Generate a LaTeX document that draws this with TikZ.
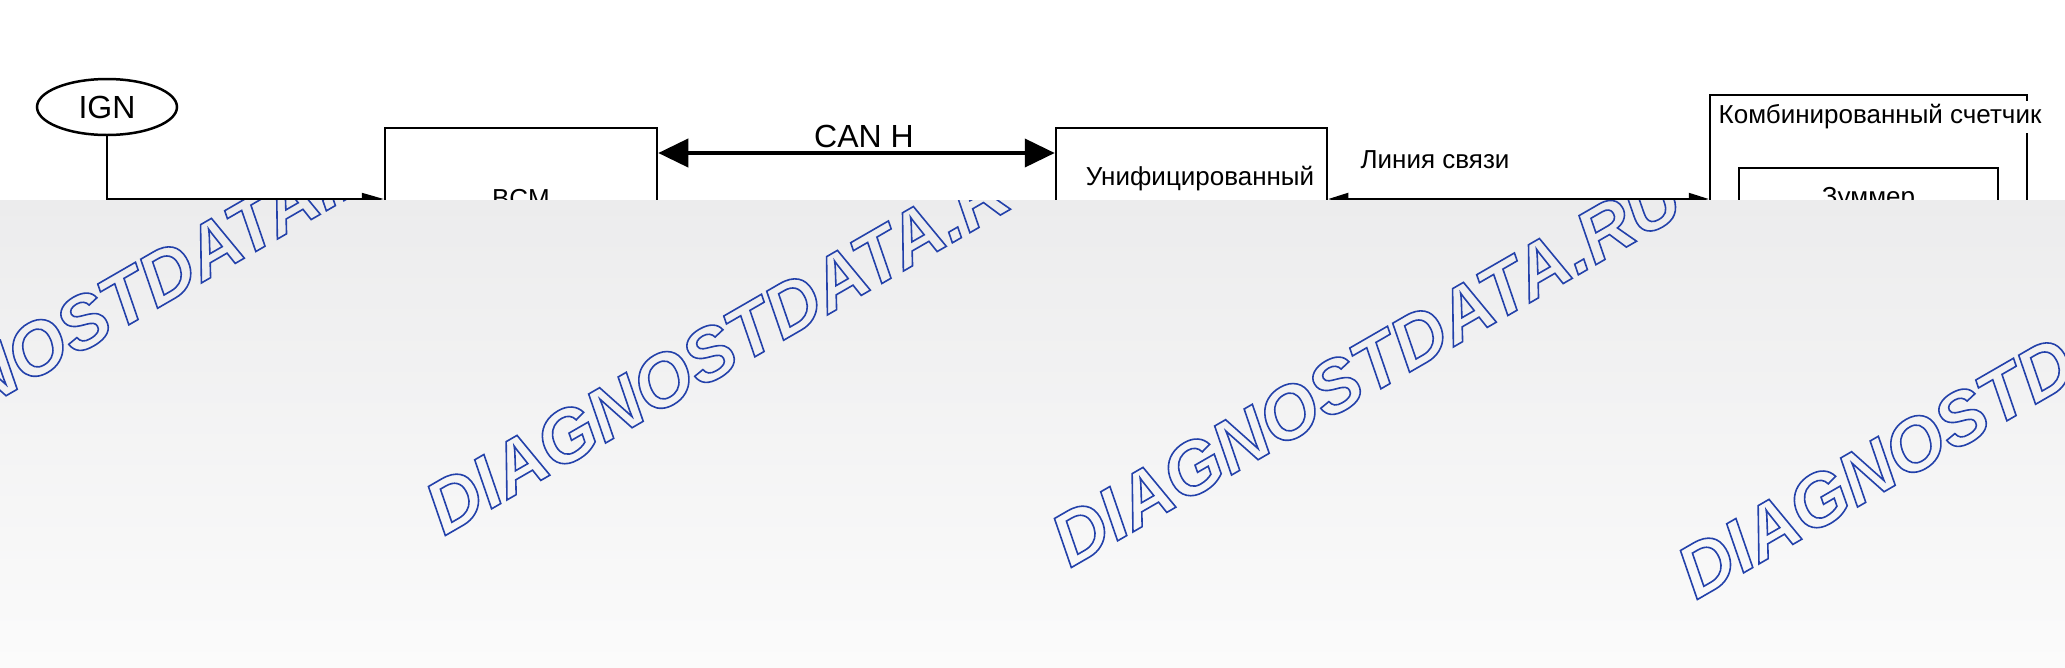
\documentclass[tikz,border=0pt]{standalone}
\usepackage{fontspec}
\setmainfont{Liberation Sans}
\usetikzlibrary{arrows.meta,shapes.geometric,calc}
\definecolor{wmblue}{RGB}{35,65,170}
\definecolor{ovtop}{RGB}{236,236,237}
\definecolor{ovbot}{RGB}{251,251,251}
\newcommand{\outlinetext}[1]{\special{pdf:literal direct 1 Tr 1.6 w}#1\special{pdf:literal direct 0 Tr}}
\begin{document}
\begin{tikzpicture}[x=1pt,y=-1pt,
  box/.style={draw,line width=2.5pt,inner sep=0pt},
  lbl/.style={font=\fontsize{26}{30}\selectfont,inner sep=0pt},
  thinarrow/.style={line width=2pt,-{Triangle[length=22pt,width=12pt]}},
  linkarrow/.style={line width=2pt,{Triangle[length=20pt,width=12pt]}-{Triangle[length=20pt,width=12pt]}},
  canarrow/.style={line width=4pt,{Triangle[length=30pt,width=28pt]}-{Triangle[length=30pt,width=28pt]}},
  wm/.style={font=\fontsize{74}{84}\selectfont\bfseries\itshape,text=wmblue,inner sep=0pt,rotate=30}
]
\fill[white] (0,0) rectangle (2065,667);
\useasboundingbox (0,0) rectangle (2065,667);

% nodes
\node[ellipse,draw,line width=2.5pt,minimum width=140pt,minimum height=56pt,inner sep=0pt,font=\fontsize{32}{36}\selectfont] (ign) at (107,107) {IGN};
\node[box,lbl,minimum width=272pt,minimum height=142pt] (bcm) at (521,199) {BCM};
\node[box,minimum width=271pt,minimum height=142pt] (ecu) at (1191.5,199) {};
\node[lbl] (ecut) at (1200,179) {Унифицированный};
\node[box,minimum width=317pt,minimum height=300pt] (meter) at (1868.5,245) {};
\node[box,lbl,minimum width=259pt,minimum height=62pt] (buzz) at (1868.5,199) {Зуммер};
\node[lbl,fill=white,inner sep=4pt] (metert) at (1880,117) {Комбинированный счетчик};

% connectors
\draw[thinarrow] (ign.south) |- (bcm.west);
\draw[canarrow] ([yshift=46pt]bcm.east) -- ([yshift=46pt]ecu.west);
\node[font=\fontsize{32}{36}\selectfont,inner sep=0pt] (can) at (864,136) {CAN H};
\draw[linkarrow] (ecu.east) -- (ecu.east -| meter.west);
\node[lbl] (linkt) at (1435,160) {Линия связи};

% overlay
\shade[top color=ovtop,bottom color=ovbot] (0,200) rectangle (2065,667);
\begin{scope}
\clip (0,200) rectangle (2065,667);
\node[wm] (wm0) at (114,304) {\outlinetext{DIAGNOSTDATA.RU}};
\node[wm] (wm1) at (740,336) {\outlinetext{DIAGNOSTDATA.RU}};
\node[wm] (wm2) at (1366,368) {\outlinetext{DIAGNOSTDATA.RU}};
\node[wm] (wm3) at (1992,400) {\outlinetext{DIAGNOSTDATA.RU}};
\end{scope}
\end{tikzpicture}
\end{document}
